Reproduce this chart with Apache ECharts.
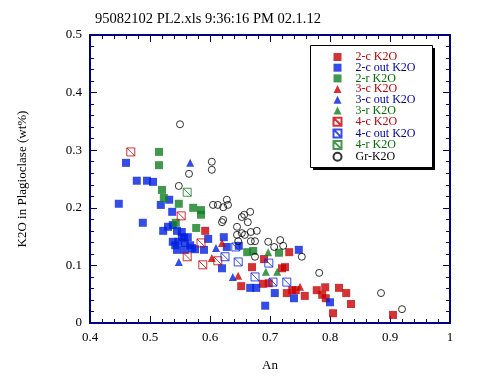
<!DOCTYPE html>
<html>
<head>
<meta charset="utf-8">
<script src="https://cdn.jsdelivr.net/npm/echarts@6/dist/echarts.min.js"></script>
<style>html,body{margin:0;padding:0;background:#fff}#main{width:479px;height:377px}</style>
</head>
<body>
<div id="main"></div>
<script>
// An vs K2O, one array per analysis group
var c2 = [[0.592,0.160],[0.732,0.123],[0.670,0.097],[0.690,0.111],[0.720,0.095],[0.725,0.097],
  [0.652,0.064],[0.688,0.068],[0.698,0.069],[0.728,0.052],[0.737,0.057],[0.743,0.057],
  [0.758,0.047],[0.778,0.057],[0.792,0.062],[0.787,0.049],[0.793,0.043],[0.815,0.061],
  [0.827,0.052],[0.835,0.033],[0.805,0.017],[0.905,0.014]];
var c2out = [[0.460,0.278],[0.478,0.247],[0.495,0.247],[0.505,0.245],[0.448,0.207],[0.518,0.205],
  [0.532,0.214],[0.537,0.193],[0.488,0.174],[0.522,0.160],[0.538,0.170],[0.530,0.167],
  [0.545,0.160],[0.553,0.158],[0.557,0.148],[0.538,0.141],[0.547,0.141],[0.558,0.139],
  [0.567,0.135],[0.570,0.130],[0.545,0.127],[0.558,0.127],[0.575,0.128],[0.590,0.127],
  [0.597,0.146],[0.542,0.135],[0.553,0.149],[0.563,0.149],[0.623,0.149],[0.628,0.132],
  [0.648,0.134],[0.620,0.095],[0.667,0.061],[0.677,0.061],[0.708,0.052],[0.692,0.030],
  [0.748,0.127],[0.740,0.043],[0.800,0.036]];
var r2 = [[0.515,0.297],[0.515,0.274],[0.520,0.231],[0.523,0.217],[0.548,0.207],[0.572,0.200],
  [0.585,0.196],[0.585,0.188],[0.577,0.165],[0.543,0.174],[0.662,0.123],[0.672,0.125],[0.715,0.122]];
var c3 = [[0.603,0.113],[0.620,0.139],[0.647,0.082],[0.750,0.063]];
var c3out = [[0.567,0.278],[0.548,0.106],[0.610,0.130],[0.638,0.080]];
var r3 = [[0.697,0.123],[0.693,0.089],[0.712,0.089]];
var c4 = [[0.468,0.297],[0.552,0.186],[0.585,0.139],[0.562,0.115],[0.588,0.101],[0.613,0.108]];
var c4out = [[0.643,0.132],[0.625,0.115],[0.647,0.106],[0.698,0.104],[0.675,0.080],[0.705,0.071],[0.728,0.071]];
var r4 = [[0.562,0.227]];
var gr = [[0.550,0.345],[0.603,0.280],[0.603,0.266],[0.565,0.259],[0.548,0.238],[0.605,0.205],
  [0.613,0.205],[0.622,0.201],[0.628,0.214],[0.630,0.205],[0.620,0.175],[0.622,0.179],
  [0.645,0.167],[0.653,0.184],[0.657,0.188],[0.663,0.175],[0.667,0.193],[0.645,0.153],
  [0.653,0.156],[0.658,0.153],[0.668,0.158],[0.678,0.160],[0.647,0.142],[0.668,0.142],
  [0.675,0.142],[0.697,0.141],[0.707,0.132],[0.717,0.144],[0.722,0.134],[0.675,0.115],
  [0.753,0.115],[0.782,0.087],[0.885,0.052],[0.920,0.024]];

var RED = '#c80000', BLUE = '#0020e0', GREEN = '#128020';
var RED_T = '#c00000', BLUE_T = '#0000a0', GREEN_T = '#007000';
var NAVY = '#000080';
var FONT = 'Liberation Serif';
var SQUARE = 'path://M0,0L10,0L10,10L0,10Z';
var TRI = 'path://M5,0L10,10L0,10Z';
var HATCH = 'path://M0,0L10,0L10,10L0,10Z M0,0L10,10';

function filled(name, data, sym, size, col) {
  return {name: name, type: 'scatter', data: data, symbol: sym, symbolSize: size,
    itemStyle: {color: col}};
}
function open(name, data, sym, size, col) {
  return {name: name, type: 'scatter', data: data, symbol: sym, symbolSize: size,
    itemStyle: {color: 'none', borderColor: col, borderWidth: 1}};
}

var myChart = echarts.init(document.getElementById('main'));

function axis(pos, show, min, max) {
  return {
    type: 'value', position: pos, min: min, max: max, interval: 0.1,
    axisLine: {show: true, onZero: false, lineStyle: {color: NAVY, width: 2}},
    axisTick: {show: true, inside: true, length: 7, lineStyle: {color: NAVY, width: 1}},
    minorTick: {show: true, splitNumber: 5, length: 4, lineStyle: {color: NAVY, width: 1}},
    splitLine: {show: false},
    axisLabel: {show: show, color: '#000', fontFamily: FONT, fontSize: 13, margin: 8}
  };
}

var xb = axis('bottom', true, 0.4, 1);
xb.name = 'An'; xb.nameLocation = 'middle'; xb.nameGap = 36;
xb.nameTextStyle = {color: '#000', fontFamily: FONT, fontSize: 13};
var yl = axis('left', true, 0, 0.5);
yl.name = 'K2O in Plagioclase (wt%)'; yl.nameLocation = 'middle'; yl.nameGap = 61;
yl.nameTextStyle = {color: '#000', fontFamily: FONT, fontSize: 13};

var legendNames = [['2-c K2O', RED_T], ['2-c out K2O', BLUE_T], ['2-r K2O', GREEN_T],
  ['3-c K2O', RED_T], ['3-c out K2O', BLUE_T], ['3-r K2O', GREEN_T],
  ['4-c K2O', RED_T], ['4-c out K2O', BLUE_T], ['4-r K2O', GREEN_T], ['Gr-K2O', '#000']];

var option = {
  animation: false,
  title: {text: '95082102 PL2.xls 9:36:16 PM 02.1.12', left: 95, top: 12, padding: 0,
    textStyle: {color: '#000', fontFamily: FONT, fontSize: 14.5, fontWeight: 'normal'}},
  grid: {left: 90, right: 29, top: 35, bottom: 54},
  xAxis: [xb, axis('top', false, 0.4, 1)],
  yAxis: [yl, axis('right', false, 0, 0.5)],
  // legend frame with its black drop shadow
  graphic: [
    {type: 'rect', z: 5, shape: {x: 313, y: 48, width: 122, height: 122}, style: {fill: '#000'}},
    {type: 'rect', z: 6, shape: {x: 310.5, y: 45.5, width: 122, height: 122},
      style: {fill: '#fff', stroke: '#000', lineWidth: 1}}
  ],
  legend: {
    orient: 'vertical', left: 331, top: 51, z: 10,
    padding: 0,
    itemWidth: 26, itemHeight: 8, itemGap: -1.3,
    textStyle: {fontFamily: FONT, fontSize: 12},
    data: legendNames.map(function (d) {
      return {name: d[0], textStyle: {color: d[1]}};
    })
  },
  series: [
    filled('2-c K2O', c2, SQUARE, 8, RED),
    filled('2-c out K2O', c2out, SQUARE, 8, BLUE),
    filled('2-r K2O', r2, SQUARE, 8, GREEN),
    filled('3-c K2O', c3, TRI, 8, RED),
    filled('3-c out K2O', c3out, TRI, 8, BLUE),
    filled('3-r K2O', r3, TRI, 8, GREEN),
    open('4-c K2O', c4, HATCH, 8, RED),
    open('4-c out K2O', c4out, HATCH, 8, BLUE),
    open('4-r K2O', r4, HATCH, 8, GREEN),
    open('Gr-K2O', gr, 'circle', 7, '#000')
  ]
};
myChart.setOption(option);
</script>
</body>
</html>
